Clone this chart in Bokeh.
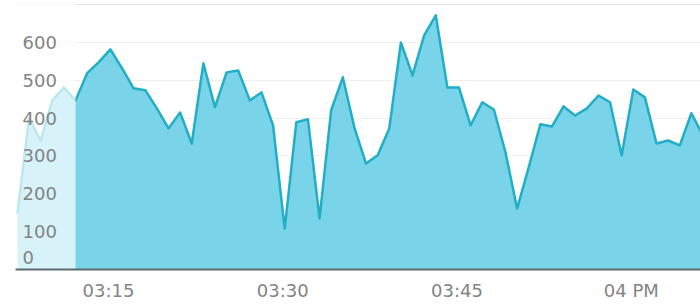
import pandas as pd
from bokeh.plotting import figure
from bokeh.models import (ColumnDataSource, Range1d, FixedTicker,
                          CustomJSTickFormatter, Grid)
from bokeh.core.properties import value
from bokeh.embed import file_html
from bokeh.resources import INLINE

# ---- data -------------------------------------------------------------
start_time = "2024-01-01 15:07:10"      # first sample
step = "60s"                            # one sample per minute
values = [148, 400, 341, 447, 481,
          447, 519, 548, 582, 532, 479, 474, 426, 373, 415,
          333, 545, 429, 521, 526, 447, 468, 381, 108, 389,
          397, 135, 421, 508, 375, 280, 302, 373, 600, 513,
          619, 672, 481, 481, 381, 442, 423, 310, 161, 270,
          384, 378, 431, 407, 426, 460, 442, 302, 476, 455,
          333, 341, 328, 413, 354]
highlight_end = "2024-01-01 15:12:10"   # end of the faded (navigator) part
view_start = "2024-01-01 15:07:00"
view_end = "2024-01-01 16:05:57"
x_ticks = ["2024-01-01 15:15", "2024-01-01 15:30",
           "2024-01-01 15:45", "2024-01-01 16:00"]
y_ticks = [0, 100, 200, 300, 400, 500, 600]
y_max = 711


def ms(s):
    return pd.Timestamp(s).value / 1e6


times = pd.date_range(start_time, periods=len(values), freq=step)
t_ms = [t.value / 1e6 for t in times]
src = ColumnDataSource(dict(t=t_ms, v=values))

p = figure(width=700, height=304, x_axis_type="datetime",
           y_axis_location=None, output_backend="svg",
           toolbar_location=None,
           x_range=Range1d(ms(view_start), ms(view_end)),
           y_range=Range1d(0, y_max),
           min_border_left=15, min_border_right=0,
           min_border_top=0, min_border_bottom=35)
p.outline_line_color = None
p.background_fill_color = "white"
p.border_fill_color = "white"
p.xgrid.grid_line_color = None
p.add_layout(Grid(dimension=1, ticker=FixedTicker(ticks=y_ticks),
                  grid_line_color="#efefef", grid_line_width=1))

fill_col = "#79d3e9"
line_col = "#22aec5"
p.varea(x="t", y1=0, y2="v", source=src, fill_color=fill_col)
p.line(x="t", y="v", source=src, line_color=line_col, line_width=2.5,
       line_join="round")

# faded navigator-style mask over the early part
p.quad(left=[ms(view_start)], right=[ms(highlight_end)], bottom=[0],
       top=[y_max], fill_color="white", fill_alpha=0.7, line_color=None)

# y labels drawn inside the plot area
lab_src = ColumnDataSource(dict(
    x=[ms(view_start)] * len(y_ticks), y=y_ticks,
    text=[str(v) for v in y_ticks],
    yoff=[-12 if v == 0 else 0 for v in y_ticks]))
p.text(x="x", y="y", text="text", source=lab_src, x_offset=7,
       y_offset="yoff", text_align="left", text_baseline="middle",
       text_font=value("DejaVu Sans"), text_font_size="18px",
       text_color="#838383")

ax = p.xaxis[0]
ax.ticker = FixedTicker(ticks=[ms(t) for t in x_ticks])
ax.formatter = CustomJSTickFormatter(code="""
const d = new Date(tick);
const h = d.getUTCHours();
const m = d.getUTCMinutes();
const h12 = ((h + 11) % 12) + 1;
const hh = String(h12).padStart(2, "0");
if (m === 0) { return hh + (h >= 12 ? " PM" : " AM"); }
return hh + ":" + String(m).padStart(2, "0");
""")
ax.axis_line_color = "#5d6a6e"
ax.axis_line_width = 2
ax.major_tick_out = 0
ax.major_tick_in = 0
ax.minor_tick_out = 0
ax.minor_tick_in = 0
ax.major_label_standoff = 10
ax.major_label_text_font = "DejaVu Sans"
ax.major_label_text_font_size = "18px"
ax.major_label_text_color = "#838383"

open("out.html", "w").write(file_html(p, INLINE))
